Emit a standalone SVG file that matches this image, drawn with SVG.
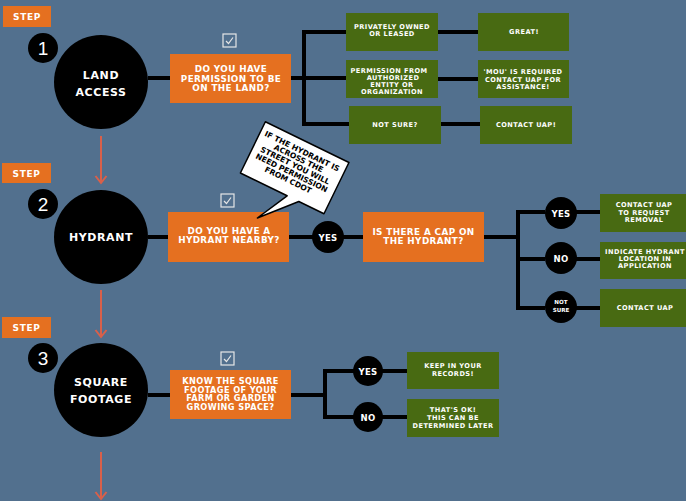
<svg xmlns="http://www.w3.org/2000/svg" width="686" height="501" viewBox="0 0 686 501">
<defs>
<style>
.bg{fill:#52708e}
.step{fill:#e57020}
.steptxt{fill:#fff;font-family:"DejaVu Sans",sans-serif;font-weight:bold;font-size:9px;letter-spacing:0.6px;text-anchor:middle}
.num{fill:#fff;font-family:"Liberation Sans",Arial,sans-serif;font-size:19px;text-anchor:middle}
.big{fill:#000}
.bigtxt{fill:#fff;font-family:"DejaVu Sans",sans-serif;font-weight:bold;font-size:11px;letter-spacing:0.6px;text-anchor:middle}
.q{fill:#e57020}
.qtxt{fill:#fff;font-family:"DejaVu Sans",sans-serif;font-weight:bold;font-size:8.8px;letter-spacing:0.4px;text-anchor:middle}
.qtxt3{fill:#fff;font-family:"DejaVu Sans",sans-serif;font-weight:bold;font-size:8.2px;letter-spacing:0.4px;text-anchor:middle}
.g{fill:#486a12}
.gtxt{fill:#fff;font-family:"DejaVu Sans",sans-serif;font-weight:bold;font-size:6.6px;letter-spacing:0.45px;text-anchor:middle}
.c{fill:#000}
.ctxt{fill:#fff;font-family:"DejaVu Sans",sans-serif;font-weight:bold;font-size:8.5px;letter-spacing:0.3px;text-anchor:middle}
.ctxts{fill:#fff;font-family:"DejaVu Sans",sans-serif;font-weight:bold;font-size:5.6px;text-anchor:middle}
.line{stroke:#000;stroke-width:4;fill:none}
.arrow{stroke:#d9604a;stroke-width:2;fill:none}
.chk{fill:none;stroke:#e6e6e6;stroke-width:1.2}
.bub{fill:#fff;stroke:#000;stroke-width:1.5;stroke-linejoin:round}
.btxt{fill:#000;font-family:"DejaVu Sans",sans-serif;font-weight:bold;font-size:7.6px;text-anchor:middle}
</style>
<g id="check">
<rect x="0" y="0" width="13" height="13" class="chk"/>
<polyline points="3,7 5.5,9.5 10,3.5" class="chk"/>
</g>
</defs>
<rect class="bg" x="0" y="0" width="686" height="501"/>

<g id="connectors">
<line class="line" x1="148" y1="78" x2="170" y2="78"/>
<line class="line" x1="291" y1="78" x2="346" y2="78"/>
<polyline class="line" points="346,32 304,32 304,124 349,124"/>
<line class="line" x1="438" y1="32" x2="478" y2="32"/>
<line class="line" x1="438" y1="79" x2="478" y2="79"/>
<line class="line" x1="441" y1="124" x2="480" y2="124"/>
<line class="line" x1="148" y1="237" x2="168" y2="237"/>
<line class="line" x1="289" y1="237" x2="363" y2="237"/>
<line class="line" x1="484" y1="237" x2="518" y2="237"/>
<polyline class="line" points="545,212 518,212 518,308 545,308"/>
<line class="line" x1="518" y1="259" x2="545" y2="259"/>
<line class="line" x1="561" y1="212" x2="600" y2="212"/>
<line class="line" x1="561" y1="259" x2="600" y2="259"/>
<line class="line" x1="561" y1="308" x2="600" y2="308"/>
<line class="line" x1="148" y1="395" x2="170" y2="395"/>
<line class="line" x1="291" y1="395" x2="325" y2="395"/>
<polyline class="line" points="360,371 325,371 325,417 360,417"/>
<line class="line" x1="368" y1="371" x2="407" y2="371"/>
<line class="line" x1="368" y1="417" x2="407" y2="417"/>
<line class="arrow" x1="101" y1="136" x2="101" y2="183"/>
<polyline class="arrow" points="95.5,176 101,183 106.5,176"/>
<line class="arrow" x1="101" y1="290" x2="101" y2="337"/>
<polyline class="arrow" points="95.5,330 101,337 106.5,330"/>
<line class="arrow" x1="101" y1="452" x2="101" y2="499"/>
<polyline class="arrow" points="95.5,492 101,499 106.5,492"/>
</g>

<g id="step1">
<rect class="step" x="3" y="6" width="48" height="21"/>
<text class="steptxt" x="27" y="20">STEP</text>
<circle class="c" cx="43" cy="48" r="15"/>
<text class="num" x="43" y="55">1</text>
</g>
<g id="land-access">
<circle class="big" cx="101" cy="82" r="47"/>
<text class="bigtxt" x="101" y="79">LAND</text>
<text class="bigtxt" x="101" y="96">ACCESS</text>
</g>
<use href="#check" x="223" y="34"/>
<g id="q-permission">
<rect class="q" x="170" y="54" width="121" height="49"/>
<text class="qtxt" x="231" y="72">DO YOU HAVE</text>
<text class="qtxt" x="231" y="81.5">PERMISSION TO BE</text>
<text class="qtxt" x="231" y="91">ON THE LAND?</text>
</g>
<g id="privately">
<rect class="g" x="346" y="13" width="92" height="38"/>
<text class="gtxt" x="392" y="29">PRIVATELY OWNED</text>
<text class="gtxt" x="392" y="36">OR LEASED</text>
</g>
<g id="great">
<rect class="g" x="478" y="13" width="91" height="38"/>
<text class="gtxt" x="524" y="34">GREAT!</text>
</g>
<g id="authorized">
<rect class="g" x="346" y="60" width="92" height="38"/>
<text class="gtxt" x="389" y="73">PERMISSION FROM</text>
<text class="gtxt" x="393" y="80">AUTHORIZED</text>
<text class="gtxt" x="392" y="87">ENTITY OR</text>
<text class="gtxt" x="392" y="94">ORGANIZATION</text>
</g>
<g id="mou">
<rect class="g" x="478" y="60" width="91" height="38"/>
<text class="gtxt" x="523" y="74">'MOU' IS REQUIRED</text>
<text class="gtxt" x="523" y="82">CONTACT UAP FOR</text>
<text class="gtxt" x="523" y="89">ASSISTANCE!</text>
</g>
<g id="notsure1">
<rect class="g" x="349" y="106" width="92" height="38"/>
<text class="gtxt" x="395" y="127">NOT SURE?</text>
</g>
<g id="contact1">
<rect class="g" x="480" y="106" width="92" height="38"/>
<text class="gtxt" x="526" y="127">CONTACT UAP!</text>
</g>

<g id="step2">
<rect class="step" x="2" y="163" width="49" height="20"/>
<text class="steptxt" x="26.5" y="176.5">STEP</text>
<circle class="c" cx="43" cy="204" r="15"/>
<text class="num" x="43" y="211">2</text>
</g>
<g id="hydrant">
<circle class="big" cx="101" cy="237" r="47"/>
<text class="bigtxt" x="101" y="241">HYDRANT</text>
</g>
<use href="#check" x="221" y="194"/>
<g id="q-hydrant">
<rect class="q" x="168" y="212" width="121" height="50"/>
<text class="qtxt" x="229" y="233.5">DO YOU HAVE A</text>
<text class="qtxt" x="229" y="243">HYDRANT NEARBY?</text>
</g>
<g id="bubble">
<g transform="translate(294,168) rotate(26)">
<path class="bub" d="M-46,-29 L47,-29 L47,28 L19,28 L-11,61 L6,28 L-46,28 Z"/>
<text class="btxt" x="0" y="-16">IF THE HYDRANT IS</text>
<text class="btxt" x="0" y="-8">ACROSS THE</text>
<text class="btxt" x="0" y="0">STREET YOU WILL</text>
<text class="btxt" x="0" y="8">NEED PERMISSION</text>
<text class="btxt" x="0" y="16">FROM CDOT</text>
</g>
</g>
<g id="yes-h">
<circle class="c" cx="328" cy="237" r="16"/>
<text class="ctxt" x="328" y="240.5">YES</text>
</g>
<g id="q-cap">
<rect class="q" x="363" y="212" width="121" height="50"/>
<text class="qtxt" x="423.5" y="234.5">IS THERE A CAP ON</text>
<text class="qtxt" x="423.5" y="244">THE HYDRANT?</text>
</g>
<g id="yes-cap">
<circle class="c" cx="561" cy="213" r="16"/>
<text class="ctxt" x="561" y="216.5">YES</text>
</g>
<g id="no-cap">
<circle class="c" cx="561" cy="258" r="16"/>
<text class="ctxt" x="561" y="261.5">NO</text>
</g>
<g id="notsure-cap">
<circle class="c" cx="561" cy="307" r="16"/>
<text class="ctxts" x="561" y="304">NOT</text>
<text class="ctxts" x="561" y="312">SURE</text>
</g>
<g id="removal">
<rect class="g" x="600" y="194" width="90" height="38"/>
<text class="gtxt" x="644" y="207">CONTACT UAP</text>
<text class="gtxt" x="644" y="215">TO REQUEST</text>
<text class="gtxt" x="644" y="222">REMOVAL</text>
</g>
<g id="indicate">
<rect class="g" x="600" y="242" width="90" height="37"/>
<text class="gtxt" x="645" y="254">INDICATE HYDRANT</text>
<text class="gtxt" x="645" y="261">LOCATION IN</text>
<text class="gtxt" x="645" y="268">APPLICATION</text>
</g>
<g id="contact2">
<rect class="g" x="600" y="289" width="90" height="38"/>
<text class="gtxt" x="645" y="310">CONTACT UAP</text>
</g>

<g id="step3">
<rect class="step" x="2" y="317" width="49" height="21"/>
<text class="steptxt" x="26.5" y="330.5">STEP</text>
<circle class="c" cx="43" cy="358" r="15"/>
<text class="num" x="43" y="365">3</text>
</g>
<g id="square-footage">
<circle class="big" cx="101" cy="390" r="47"/>
<text class="bigtxt" x="101" y="386">SQUARE</text>
<text class="bigtxt" x="101" y="403">FOOTAGE</text>
</g>
<use href="#check" x="221" y="352"/>
<g id="q-square">
<rect class="q" x="170" y="370" width="121" height="49"/>
<text class="qtxt3" x="230.5" y="384">KNOW THE SQUARE</text>
<text class="qtxt3" x="230.5" y="392.5">FOOTAGE OF YOUR</text>
<text class="qtxt3" x="230.5" y="401">FARM OR GARDEN</text>
<text class="qtxt3" x="230.5" y="409.5">GROWING SPACE?</text>
</g>
<g id="yes-sq">
<circle class="c" cx="368" cy="371" r="15"/>
<text class="ctxt" x="368" y="374.5">YES</text>
</g>
<g id="no-sq">
<circle class="c" cx="368" cy="417" r="15"/>
<text class="ctxt" x="368" y="420.5">NO</text>
</g>
<g id="records">
<rect class="g" x="407" y="352" width="92" height="37"/>
<text class="gtxt" x="453" y="368">KEEP IN YOUR</text>
<text class="gtxt" x="453" y="376">RECORDS!</text>
</g>
<g id="later">
<rect class="g" x="407" y="399" width="92" height="38"/>
<text class="gtxt" x="453" y="412">THAT'S OK!</text>
<text class="gtxt" x="453" y="420">THIS CAN BE</text>
<text class="gtxt" x="453" y="428">DETERMINED LATER</text>
</g>
</svg>
